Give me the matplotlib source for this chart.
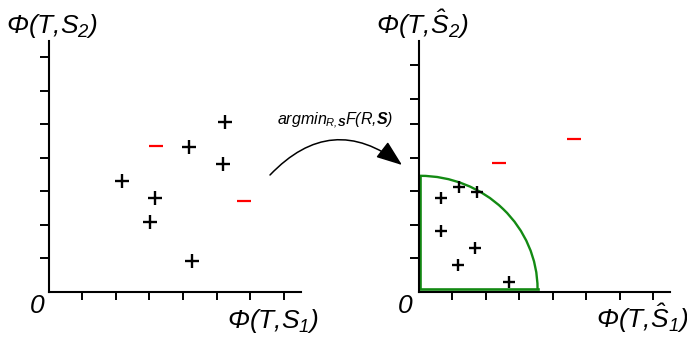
import numpy as np
import matplotlib
matplotlib.use("Agg")
import matplotlib.pyplot as plt
from matplotlib.patches import Arc, FancyArrowPatch

plt.rcParams['mathtext.fontset'] = 'custom'
plt.rcParams['mathtext.rm'] = 'Liberation Sans:italic'
plt.rcParams['mathtext.it'] = 'Liberation Sans:italic'
plt.rcParams['mathtext.bf'] = 'Liberation Sans:italic:bold'
plt.rcParams['font.family'] = ['Liberation Sans', 'DejaVu Sans']

# ---- data ----
left_pos_x = [2.20, 3.17, 3.01, 4.19, 4.26, 5.25, 5.20]
left_pos_y = [3.30, 2.79, 2.09, 4.32, 0.92, 5.06, 3.80]
left_neg_x = [3.20, 5.81]
left_neg_y = [4.36, 2.71]

right_pos_x = [0.67, 1.20, 1.74, 0.67, 1.68, 1.19, 2.69]
right_pos_y = [2.80, 3.12, 2.99, 1.82, 1.31, 0.80, 0.30]
right_neg_x = [2.39, 4.64]
right_neg_y = [3.85, 4.55]

left_xticks = [1, 2, 3, 4, 5, 6, 7]
left_yticks = [1, 2, 3, 4, 5, 6, 7]
right_xticks = [1, 2, 3, 4, 5, 6, 7]
right_yticks = [1, 2, 3, 4, 5, 5.76, 6.78]

region_center = (0.04, 0.08)
region_rx = 3.51
region_ry = 3.38

W, H = 687, 338
fig = plt.figure(figsize=(W/100, H/100), dpi=100)

def px(x, y):
    return x / W, 1 - y / H

def make_axes(x0, y0, x1, y1, xt, yt):
    ax = fig.add_axes([x0 / W, 1 - y0 / H, (x1 - x0) / W, (y0 - y1) / H])
    ax.set_xlim(0, 7.5)
    ax.set_ylim(0, 7.5)
    for s in ['top', 'right']:
        ax.spines[s].set_visible(False)
    for s in ['left', 'bottom']:
        ax.spines[s].set_linewidth(1.5)
    ax.set_xticks(xt)
    ax.set_yticks(yt)
    ax.set_xticklabels([])
    ax.set_yticklabels([])
    ax.tick_params(axis='x', direction='out', length=6, width=1.4)
    ax.tick_params(axis='y', direction='out', length=6.5, width=1.4)
    ax.patch.set_alpha(0)
    return ax

axL = make_axes(48.5, 291.7, 300.5, 40.5, left_xticks, left_yticks)
axR = make_axes(418.5, 291.7, 670, 40.5, right_xticks, right_yticks)

mk = dict(linestyle='none', clip_on=False)
axL.plot(left_pos_x, left_pos_y, marker='+', color='black', markersize=9.5, markeredgewidth=1.7, **mk)
axL.plot(left_neg_x, left_neg_y, marker='_', color='#ff0000', markersize=9.5, markeredgewidth=1.6, **mk)
axR.plot(right_pos_x, right_pos_y, marker='+', color='black', markersize=9, markeredgewidth=1.7, **mk)
axR.plot(right_neg_x, right_neg_y, marker='_', color='#ff0000', markersize=9.5, markeredgewidth=1.6, **mk)

green = '#138a13'
cx, cy = region_center
axR.add_patch(Arc((cx, cy), 2 * region_rx, 2 * region_ry, theta1=0, theta2=90,
                  color=green, linewidth=1.7, clip_on=False))
axR.plot([cx, cx, cx + region_rx], [cy + region_ry, cy, cy], color=green,
         linewidth=1.9, solid_joinstyle='miter', clip_on=False)

fs = 19
def label(x, y, s, size=fs, **kw):
    fig.text(*px(x, y), s, fontsize=size, ha='left', va='baseline', **kw)

label(6, 33, r'$\Phi(T{,}S_2)$')
label(227, 328, r'$\Phi(T{,}S_1)$')
label(376, 34, r'$\Phi(T{,}\hat{S}_2)$')
label(596, 328, r'$\Phi(T{,}\hat{S}_1)$')
label(30, 313, '0', style='italic')
label(398, 313, '0', style='italic')

fig.text(*px(335, 125), r'$argmin_{R{,}\mathbf{S}}F(R{,}\mathbf{S})$', fontsize=11.5,
         ha='center', va='baseline')

arrow = FancyArrowPatch(px(270, 175), px(402, 165), transform=fig.transFigure,
                        connectionstyle='arc3,rad=-0.45',
                        arrowstyle='-|>,head_length=0.8,head_width=0.3',
                        mutation_scale=20, linewidth=1.1, color='black',
                        shrinkA=0, shrinkB=0)
fig.add_artist(arrow)

fig.savefig('out.png', dpi=100)
